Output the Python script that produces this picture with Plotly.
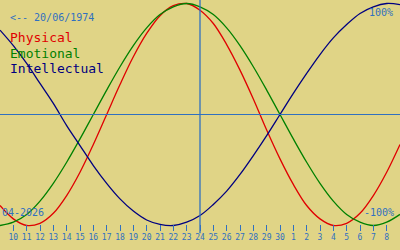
import plotly.graph_objects as go

# Day index 0 = 9 April 2026 ... 30 = 9 May 2026
days = list(range(31))
physical = [-82, -94, -100, -98, -89, -73, -52, -27, 0, 27, 52, 73, 89, 98, 100, 94,
            82, 63, 40, 14, -14, -40, -63, -82, -94, -100, -98, -89, -73, -52, -27]
emotional = [-100, -97, -90, -78, -62, -43, -22, 0, 22, 43, 62, 78, 90, 97, 100, 97,
             90, 78, 62, 43, 22, 0, -22, -43, -62, -78, -90, -97, -100, -97, -90]
intellectual = [76, 62, 46, 28, 10, -10, -28, -46, -62, -76, -87, -95, -99, -100, -97, -91,
                -81, -69, -54, -37, -19, 0, 19, 37, 54, 69, 81, 91, 97, 100, 99]
tick_days = list(range(1, 30))
tick_labels = [str(d) for d in range(10, 31)] + [str(d) for d in range(1, 9)]
today_index = 15
birth_label = "<-- 20/06/1974"
month_label = "04-2026"

BG = "#e0d486"
BLUE = "#3070c0"
RED = "#e00000"
GREEN = "#008000"
NAVY = "#000080"
MONO = "DejaVu Sans Mono"

fig = go.Figure()
for vals, col in [(physical, RED), (emotional, GREEN), (intellectual, NAVY)]:
    fig.add_trace(go.Scatter(x=days, y=vals, mode="lines",
                             line=dict(color=col, width=1.3, shape="spline"),
                             hoverinfo="skip", showlegend=False))

fig.add_shape(type="line", xref="paper", yref="y", x0=0, x1=1, y0=0, y1=0,
              line=dict(color=BLUE, width=1.2))
fig.add_shape(type="line", xref="x", yref="paper", x0=today_index, x1=today_index,
              y0=-0.01, y1=1, line=dict(color=BLUE, width=1.3))

PH = 231.0

def ann(text, px, py, size, color, anchor="left"):
    fig.add_annotation(text=text, xref="paper", yref="paper", x=px / 400.0,
                       y=1 - py / PH, xanchor=anchor, yanchor="middle",
                       showarrow=False, borderpad=0,
                       font=dict(family=MONO, size=size, color=color))

ann(birth_label, 9, 17, 10, BLUE)
ann("Physical", 9, 37, 13, RED)
ann("Emotional", 9, 53, 13, GREEN)
ann("Intellectual", 9, 68, 13, NAVY)
ann("100%", 394, 12, 10, BLUE, "right")
ann("-100%", 395, 212, 10, BLUE, "right")
ann(month_label, 1, 212, 10, BLUE)

fig.update_layout(
    width=400, height=250,
    margin=dict(l=0, r=0, t=0, b=19, pad=0),
    paper_bgcolor=BG, plot_bgcolor=BG,
    xaxis=dict(range=[0, 30], tickvals=tick_days, ticktext=tick_labels,
               ticks="inside", ticklen=6, tickcolor=BLUE, tickwidth=1.2,
               showgrid=False, zeroline=False, showline=False,
               tickfont=dict(family=MONO, size=8, color=BLUE)),
    yaxis=dict(range=[-104.95, 103.15], visible=False, showgrid=False, zeroline=False),
)

fig.write_html("out.html")
